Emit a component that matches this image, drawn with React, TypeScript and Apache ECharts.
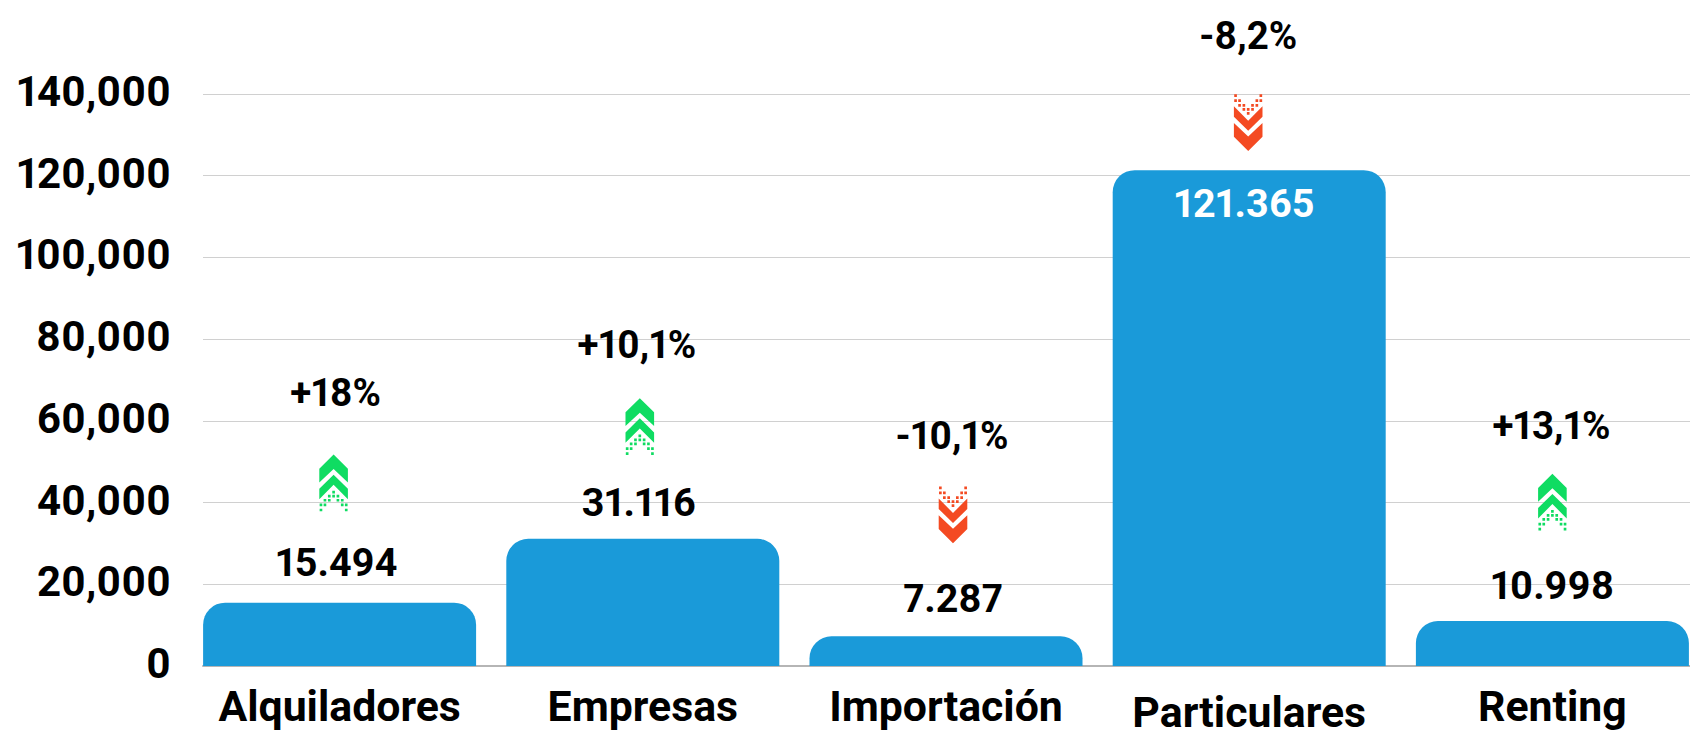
import React, { useEffect, useRef } from "react";
import * as echarts from "echarts";

const categories = ["Alquiladores", "Empresas", "Importación", "Particulares", "Renting"];
const values = [15494, 31116, 7287, 121365, 10998];
const valueLabels = ["15.494", "31.116", "7.287", "121.365", "10.998"];
const changes = ["+18%", "+10,1%", "-10,1%", "-8,2%", "+13,1%"];
const directions = ["up", "up", "down", "down", "up"];
// where the annotations sit, read on the y axis
const changeLabelLevels = [66900, 78800, 56500, 154300, 58800];
const arrowLevels = [44800, 58600, 37000, 133000, 40100];
const tickFormat = (v: number) => v.toLocaleString("en-US");

// x offsets seen in the picture
const labelShift = [-3, -4, 7, -5, 0];
const changeShift = [-4, -6, 6, -1, -1];
const arrowShift = [-6, -3, 7, -1, 0];
const labelRaise = [5.5, 1, 3, 0, 1];

const chevrons = [
  [[43, 0], [86, 42], [86, 83], [43, 43], [0, 83], [0, 42]],
  [[43, 60], [86, 102], [86, 133], [43, 90], [0, 133], [0, 102]],
];
const dots = [
  [43, 112],
  [30, 124], [43, 124], [56, 124],
  [17, 136], [30, 136], [56, 136], [69, 136],
  [5, 150], [17, 150], [69, 150], [81, 150],
  [5, 165], [81, 165],
];
function arrowPath(flip: boolean) {
  const H = 170;
  const fy = (y: number) => (flip ? H - y : y);
  const poly = (pts: number[][]) =>
    "M" + pts.map((p) => `${p[0]} ${fy(p[1])}`).join("L") + "Z";
  const square = (c: number[]) => {
    const r = 4;
    return poly([[c[0] - r, c[1] - r], [c[0] + r, c[1] - r], [c[0] + r, c[1] + r], [c[0] - r, c[1] + r]]);
  };
  return "path://" + chevrons.map(poly).join("") + dots.map(square).join("");
}

const FONT = "Roboto";

export default function App() {
  const ref = useRef<HTMLDivElement>(null);
  useEffect(() => {
    const chart = echarts.init(ref.current!, undefined, { renderer: "svg" });
    chart.setOption({
      animation: false,
      backgroundColor: "#ffffff",
      grid: [
        // gridlines and baseline
        { left: 203, top: 94, width: 1487, height: 572, outerBoundsMode: "none" },
        // bars
        { left: 188, top: 94, width: 1516, height: 572, outerBoundsMode: "none" },
        // y tick labels, which sit slightly above their gridlines
        { left: 203, top: 91.5, width: 1487, height: 572, outerBoundsMode: "none" },
      ],
      xAxis: [
        {
          gridIndex: 0, type: "category", data: [],
          axisLine: { show: true, lineStyle: { color: "#b5b5b5", width: 2 } },
          axisTick: { show: false }, axisLabel: { show: false },
        },
        {
          gridIndex: 1, type: "category",
          data: categories.map((c, i) => ({
            value: c,
            textStyle: { padding: [i === 3 ? 6 : 0, 0, 0, 0] },
          })),
          axisLine: { show: false }, axisTick: { show: false },
          axisLabel: {
            interval: 0, margin: 18, color: "#000", fontFamily: FONT,
            fontWeight: "bold", fontSize: 42.8,
          },
        },
        { gridIndex: 2, type: "category", data: [], show: false },
      ],
      yAxis: [
        {
          gridIndex: 0, type: "value", min: 0, max: 140000, interval: 20000,
          axisLine: { show: false }, axisTick: { show: false }, axisLabel: { show: false },
          splitLine: { lineStyle: { color: "#d0d0d0", width: 1 } },
        },
        {
          gridIndex: 1, type: "value", min: 0, max: 140000, interval: 20000, show: false,
          splitLine: { show: false },
        },
        {
          gridIndex: 2, type: "value", min: 0, max: 140000, interval: 20000,
          axisLine: { show: false }, axisTick: { show: false }, splitLine: { show: false },
          axisLabel: {
            margin: 32, color: "#000", fontFamily: FONT, fontWeight: "bold", fontSize: 42,
            formatter: tickFormat,
          },
        },
      ],
      series: [
        {
          type: "bar", xAxisIndex: 1, yAxisIndex: 1, barWidth: 273,
          itemStyle: { color: "#1a9ad9", borderRadius: [22, 22, 0, 0] },
          data: values.map((v, i) => ({
            value: v,
            label: {
              show: true,
              position: i === 3 ? "insideTop" : "top",
              distance: i === 3 ? 13 : 15,
              offset: [labelShift[i], -labelRaise[i]],
              formatter: valueLabels[i],
              color: i === 3 ? "#fff" : "#000",
              fontFamily: FONT, fontWeight: "bold", fontSize: 39.5,
            },
          })),
        },
        {
          type: "scatter", xAxisIndex: 1, yAxisIndex: 1, clip: false, symbolSize: 1,
          itemStyle: { color: "transparent", opacity: 1 },
          data: changeLabelLevels.map((v, i) => ({
            value: v,
            label: {
              show: true, position: "inside", offset: [changeShift[i], 0],
              formatter: changes[i], color: "#000", opacity: 1,
              fontFamily: FONT, fontWeight: "bold", fontSize: 38.5,
            },
          })),
        },
        {
          type: "scatter", xAxisIndex: 1, yAxisIndex: 1, clip: false,
          symbolSize: [28.6, 56.7],
          data: arrowLevels.map((v, i) => ({
            value: v,
            symbol: arrowPath(directions[i] === "down"),
            symbolOffset: [arrowShift[i], 0],
            itemStyle: { color: directions[i] === "down" ? "#f44a22" : "#0fdc62", opacity: 1 },
          })),
        },
      ],
    });
    return () => chart.dispose();
  }, []);
  return (
    <div
      ref={ref}
      style={{ width: 1690, height: 735, position: "fixed", left: 0, top: 0, fontFeatureSettings: '"pnum"' }}
    />
  );
}
